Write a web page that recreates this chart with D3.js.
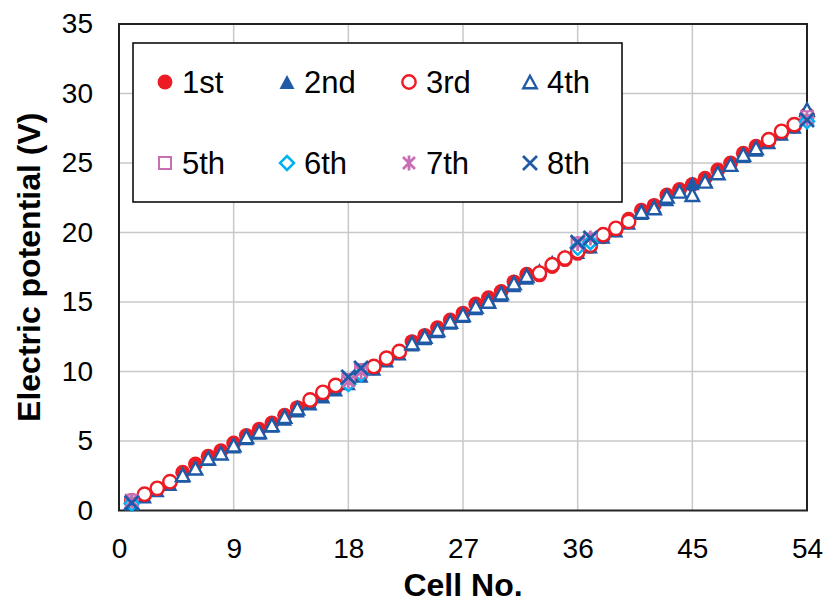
<!DOCTYPE html>
<html lang="en">
<head>
    <meta charset="UTF-8">
    <title>Electric potential per cell</title>
    <script src="https://d3js.org/d3.v7.min.js"></script>
    <style>
        body{ margin:0; background:#fff; }
        text{ font-family: "Liberation Sans", Arial, sans-serif; }
        .tick text{ font-size: 28px; fill:#000; }
        .title{ font-size: 32px; font-weight: bold; }
        .legend text{ font-size: 31px; }
    </style>
</head>
<body>
<svg width="825" height="604"></svg>
<script>
    // cell numbers 1..54
    const cells = d3.range(1, 55);
    const xTicks = [0, 9, 18, 27, 36, 45, 54];
    const yTicks = [0, 5, 10, 15, 20, 25, 30, 35];
    const seriesNames = ["1st", "2nd", "3rd", "4th", "5th", "6th", "7th", "8th"];

    // values (null = not plotted)
    const s1 = [0.65, 1.1, 1.55, 2.0, 2.75, 3.35, 3.9, 4.3, 4.85, 5.4, 5.85, 6.3, 6.85, 7.4, 7.8, 8.35, 8.8, 9.2,
        9.8, 10.25, 10.85, 11.35, 12.15, 12.6, 13.15, 13.7, 14.2, 14.85, 15.3, 15.75, 16.45, 17.0, 16.95, 17.55, 18.05, 18.5,
        19.0, 19.7, 20.2, 20.95, 21.6, 21.95, 22.7, 23.1, 23.45, 23.9, 24.5, 25.0, 25.7, 26.2, 26.6, 27.15, 27.65, 28.5];
    const s2 = [0.5, 1.0, 1.45, 1.9, 2.5, 3.1, 3.7, 4.15, 4.6, 5.2, 5.6, 6.1, 6.6, 7.2, 7.7, 8.2, 8.7, 9.15,
        9.7, 10.2, 10.8, 11.3, 11.95, 12.4, 12.9, 13.5, 14.0, 14.55, 15.2, 15.5, 16.2, 16.75, 17.3, 17.9, 18.3, 18.6,
        19.0, 19.7, 20.15, 20.7, 21.4, 21.9, 22.4, 23.0, 23.55, 23.8, 24.3, 24.9, 25.5, 25.95, 26.5, 27.1, 27.6, 28.3];
    const s3 = [0.7, 1.17, 1.6, 2.07, null, null, null, null, null, null, null, null, null, null, 7.95, 8.5, 9.0, 9.3,
        9.9, 10.36, 10.96, 11.44, null, null, null, null, null, null, null, null, null, null, 17.08, 17.68, 18.16, 18.64,
        19.1, 19.84, 20.3, 20.8, null, null, null, null, null, null, null, null, null, null, 26.68, 27.28, 27.76, 28.4];
    const s4 = [0.55, null, null, null, 2.56, 3.04, 3.76, 4.12, 4.7, 5.3, 5.67, 6.16, 6.75, 7.36, null, null, null, null,
        null, null, null, null, 12.04, 12.52, 13.0, 13.6, 14.08, 14.68, 15.04, 15.64, 16.36, 16.89, null, null, null, null,
        null, null, null, null, 21.5, 21.76, 22.6, 22.96, 22.72, 23.68, 24.28, 24.88, 25.6, 26.08, null, null, null, 28.84];
    // 5th-8th were measured only at these cells
    const sparseCells = [1, 18, 19, 36, 37, 54];
    const s5 = [0.7, 9.4, 10.1, 19.2, 19.5, 28.3];
    const s6 = [0.5, 9.1, 9.8, 18.9, 19.3, 28.0];
    const s7 = [0.7, 9.3, 10.0, 19.2, 19.6, 28.2];
    const s8 = [0.55, 9.6, 10.25, 19.3, 19.6, 28.1];

    const red = "#ed1c24", blue = "#1f5aa6", pink = "#c86eb4", cyan = "#00b0f0";

    const svg = d3.select("svg");
    const plotL = 119, plotR = 807, plotT = 24, plotB = 510.5;

    const xScale = d3.scaleLinear().domain([0, 54]).range([plotL, plotR]);
    const yScale = d3.scaleLinear().domain([0, 35]).range([plotB, plotT]);

    // marker shapes (centered on 0,0)
    const tri = (w, h) => `M0,${-h / 2}L${w / 2},${h / 2}L${-w / 2},${h / 2}Z`;
    const shapes = {
        dot: {d: d3.symbol(d3.symbolCircle, 175)(), fill: red, stroke: "none"},
        triFill: {d: tri(15, 14), fill: blue, stroke: "none"},
        ring: {d: d3.symbol(d3.symbolCircle, 140)(), fill: "#fff", stroke: red, sw: 2.4},
        triOpen: {d: tri(13.5, 12.5), fill: "#fff", stroke: blue, sw: 2.4},
        square: {d: "M-6,-6H6V6H-6Z", fill: "#fff", stroke: pink, sw: 2},
        diamond: {d: "M0,-7L7,0L0,7L-7,0Z", fill: "#fff", stroke: cyan, sw: 2.5},
        star: {d: "M-6,-6L6,6M6,-6L-6,6M0,-7.5V7.5", fill: "none", stroke: pink, sw: 2.8},
        cross: {d: "M-7,-7L7,7M7,-7L-7,7", fill: "none", stroke: blue, sw: 2.8}
    };

    const series = [
        {name: seriesNames[0], xs: cells, ys: s1, shape: shapes.dot},
        {name: seriesNames[1], xs: cells, ys: s2, shape: shapes.triFill},
        {name: seriesNames[2], xs: cells, ys: s3, shape: shapes.ring},
        {name: seriesNames[3], xs: cells, ys: s4, shape: shapes.triOpen},
        {name: seriesNames[4], xs: sparseCells, ys: s5, shape: shapes.square},
        {name: seriesNames[5], xs: sparseCells, ys: s6, shape: shapes.diamond},
        {name: seriesNames[6], xs: sparseCells, ys: s7, shape: shapes.star},
        {name: seriesNames[7], xs: sparseCells, ys: s8, shape: shapes.cross}
    ];

    // grid
    const grid = svg.append("g").attr("stroke", "#c8c8c8").attr("stroke-width", 1.5);
    grid.selectAll(".gx").data(xTicks.slice(1, -1)).enter().append("line")
        .attr("x1", d => xScale(d)).attr("x2", d => xScale(d))
        .attr("y1", plotT).attr("y2", plotB);
    grid.selectAll(".gy").data(yTicks.slice(1, -1)).enter().append("line")
        .attr("x1", plotL).attr("x2", plotR)
        .attr("y1", d => yScale(d)).attr("y2", d => yScale(d));

    // frame
    svg.append("rect")
        .attr("x", plotL).attr("y", plotT)
        .attr("width", plotR - plotL).attr("height", plotB - plotT)
        .attr("fill", "none").attr("stroke", "#222").attr("stroke-width", 2);

    // axes (labels only)
    const xAxis = svg.append("g")
        .attr("transform", `translate(0,${plotB})`)
        .call(d3.axisBottom(xScale).tickValues(xTicks).tickSize(0).tickPadding(27));
    const yAxis = svg.append("g")
        .attr("transform", `translate(${plotL},0)`)
        .call(d3.axisLeft(yScale).tickValues(yTicks).tickSize(0).tickPadding(26));
    svg.selectAll(".domain").remove();
    xAxis.selectAll("text").attr("dy", "0.72em");

    // points
    series.forEach(s => {
        const pts = s.xs.map((c, i) => ({c: c, v: s.ys[i]})).filter(p => p.v !== null);
        svg.append("g").selectAll("path")
            .data(pts).enter().append("path")
            .attr("transform", p => `translate(${xScale(p.c)},${yScale(p.v)})`)
            .attr("d", s.shape.d)
            .attr("fill", s.shape.fill)
            .attr("stroke", s.shape.stroke)
            .attr("stroke-width", s.shape.sw || 0);
    });

    // legend
    const legend = svg.append("g").attr("class", "legend");
    legend.append("rect")
        .attr("x", 133).attr("y", 43).attr("width", 489).attr("height", 159)
        .attr("fill", "#fff").attr("stroke", "#000").attr("stroke-width", 1.5);
    const colX = [165, 287, 409, 530];
    const rowY = [82, 163];
    series.forEach((s, i) => {
        const gx = colX[i % 4], gy = rowY[Math.floor(i / 4)];
        legend.append("path")
            .attr("transform", `translate(${gx},${gy})`)
            .attr("d", s.shape.d)
            .attr("fill", s.shape.fill)
            .attr("stroke", s.shape.stroke)
            .attr("stroke-width", s.shape.sw || 0);
        legend.append("text")
            .attr("x", gx + 17).attr("y", gy + 11)
            .text(s.name);
    });

    // titles
    svg.append("text").attr("class", "title")
        .attr("x", (plotL + plotR) / 2).attr("y", 596)
        .attr("text-anchor", "middle")
        .text("Cell No.");
    svg.append("text").attr("class", "title")
        .attr("transform", `translate(40,${(plotT + plotB) / 2}) rotate(-90)`)
        .attr("text-anchor", "middle")
        .text("Electric potential (V)");
</script>
</body>
</html>
